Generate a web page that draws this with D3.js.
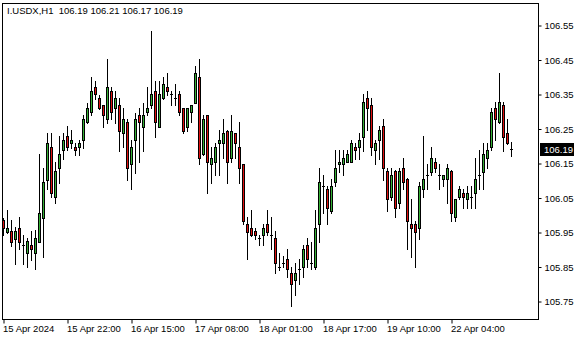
<!DOCTYPE html>
<html>
<head>
<meta charset="utf-8">
<script src="https://cdn.jsdelivr.net/npm/d3@7"></script>
<style>
    html, body { margin: 0; padding: 0; background: #fff; }
    svg { display: block; }
    svg text { font-family: "Liberation Sans", Arial, sans-serif; font-size: 9.5px; fill: #000; }
</style>
</head>
<body>
<div id="chart"></div>
<script>
// I.USDX, H1 candles (15 Apr 2024 -> 22 Apr)
const symbol = 'I.USDX';
const period = 'H1';

const opens = [
    105.985, 105.951, 105.953, 105.931, 105.961, 105.911, 105.890, 105.911, 105.890, 105.922, 105.992, 106.101, 106.195, 106.052, 106.135, 106.187,
    106.227, 106.207, 106.195, 106.195, 106.216, 106.268, 106.297, 106.369, 106.337, 106.317, 106.277, 106.359, 106.308, 106.317, 106.236, 106.268,
    106.146, 106.216, 106.288, 106.255, 106.297, 106.317, 106.359, 106.255, 106.337, 106.369, 106.349, 106.337, 106.349, 106.308, 106.255, 106.297,
    106.325, 106.398, 106.175, 106.288, 106.146, 106.154, 106.207, 106.207, 106.244, 106.164, 106.236, 106.195, 106.146, 105.972, 105.961, 105.953,
    105.932, 105.940, 105.972, 105.940, 105.932, 105.849, 105.859, 105.871, 105.830, 105.810, 105.842, 105.849, 105.911, 105.859, 105.849, 105.972,
    106.083, 106.074, 106.012, 106.094, 106.146, 106.146, 106.154, 106.154, 106.195, 106.195, 106.226, 106.337, 106.317, 106.187, 106.216, 106.257,
    106.127, 106.052, 106.127, 106.033, 106.135, 106.104, 105.972, 105.972, 105.961, 106.074, 106.114, 106.125, 106.154, 106.114, 106.104, 106.104,
    106.127, 105.993, 106.052, 106.064, 106.045, 106.052, 106.064, 106.114, 106.125, 106.164, 106.195, 106.308, 106.268, 106.317, 106.236, 106.19
];
const highs = [
    105.992, 106.014, 105.985, 105.965, 105.993, 105.941, 105.932, 105.953, 105.956, 106.175, 106.135, 106.236, 106.236, 106.154, 106.228, 106.236,
    106.257, 106.246, 106.207, 106.216, 106.289, 106.325, 106.400, 106.388, 106.347, 106.319, 106.451, 106.371, 106.359, 106.337, 106.308, 106.277,
    106.216, 106.296, 106.308, 106.323, 106.369, 106.533, 106.388, 106.388, 106.400, 106.410, 106.359, 106.379, 106.359, 106.310, 106.310, 106.319,
    106.431, 106.451, 106.288, 106.290, 106.195, 106.207, 106.246, 106.277, 106.246, 106.288, 106.238, 106.268, 106.148, 105.993, 106.014, 105.961,
    105.940, 105.972, 106.014, 105.993, 105.953, 105.890, 105.880, 105.902, 105.849, 105.859, 105.871, 105.911, 105.932, 105.922, 106.014, 106.135,
    106.114, 106.083, 106.104, 106.187, 106.187, 106.187, 106.187, 106.216, 106.207, 106.236, 106.350, 106.359, 106.337, 106.216, 106.257, 106.277,
    106.135, 106.135, 106.129, 106.135, 106.164, 106.106, 106.045, 105.983, 106.094, 106.228, 106.146, 106.195, 106.164, 106.146, 106.116, 106.146,
    106.129, 106.047, 106.083, 106.074, 106.083, 106.083, 106.164, 106.187, 106.207, 106.207, 106.308, 106.327, 106.410, 106.327, 106.277, 106.21
];
const lows = [
    105.941, 105.946, 105.909, 105.857, 105.902, 105.857, 105.849, 105.869, 105.842, 105.920, 105.878, 106.074, 106.052, 106.033, 106.093, 106.163,
    106.187, 106.194, 106.174, 106.174, 106.194, 106.266, 106.289, 106.335, 106.306, 106.255, 106.267, 106.277, 106.267, 106.186, 106.195, 106.101,
    106.074, 106.122, 106.154, 106.186, 106.289, 106.308, 106.226, 106.253, 106.335, 106.347, 106.317, 106.317, 106.288, 106.236, 106.244, 106.268,
    106.323, 106.146, 106.173, 106.064, 106.093, 106.114, 106.114, 106.164, 106.093, 106.154, 106.164, 106.093, 105.972, 105.871, 105.938, 105.931,
    105.911, 105.911, 105.940, 105.902, 105.830, 105.840, 105.849, 105.819, 105.736, 105.767, 105.798, 105.819, 105.849, 105.842, 105.842, 105.922,
    106.004, 105.972, 106.004, 106.083, 106.125, 106.114, 106.152, 106.152, 106.163, 106.163, 106.186, 106.246, 106.174, 106.146, 106.163, 106.101,
    106.012, 106.043, 105.993, 106.021, 106.074, 105.902, 105.878, 105.849, 105.931, 106.052, 106.074, 106.114, 106.125, 106.074, 106.083, 106.033,
    105.983, 105.983, 106.045, 106.021, 106.021, 106.021, 106.021, 106.074, 106.074, 106.135, 106.187, 106.216, 106.266, 106.186, 106.205, 106.17
];
const closes = [
    105.961, 105.961, 105.922, 105.953, 105.922, 105.911, 105.924, 105.902, 105.932, 106.004, 106.094, 106.207, 106.064, 106.127, 106.175, 106.216,
    106.195, 106.216, 106.187, 106.207, 106.277, 106.308, 106.359, 106.349, 106.308, 106.288, 106.369, 106.297, 106.337, 106.244, 106.277, 106.135,
    106.195, 106.277, 106.268, 106.288, 106.308, 106.349, 106.268, 106.349, 106.379, 106.359, 106.349, 106.337, 106.297, 106.244, 106.308, 106.317,
    106.410, 106.164, 106.277, 106.154, 106.164, 106.195, 106.216, 106.236, 106.154, 106.244, 106.207, 106.135, 105.983, 105.951, 105.940, 105.940,
    105.932, 105.961, 105.951, 105.940, 105.859, 105.849, 105.859, 105.842, 105.798, 105.830, 105.842, 105.902, 105.871, 105.859, 105.961, 106.094,
    106.083, 106.021, 106.083, 106.135, 106.154, 106.164, 106.175, 106.207, 106.187, 106.216, 106.327, 106.308, 106.195, 106.207, 106.246, 106.135,
    106.045, 106.114, 106.021, 106.127, 106.094, 105.983, 105.961, 105.951, 106.083, 106.104, 106.114, 106.164, 106.135, 106.114, 106.114, 106.135,
    106.004, 106.045, 106.074, 106.052, 106.064, 106.052, 106.104, 106.114, 106.175, 106.187, 106.297, 106.277, 106.327, 106.226, 106.207, 106.19
];

// one time label every 16 bars
const timeLabels = ['15 Apr 2024', '15 Apr 22:00', '16 Apr 15:00', '17 Apr 08:00', '18 Apr 01:00', '18 Apr 17:00', '19 Apr 10:00', '22 Apr 04:00'];
const labelStep = 16;
const priceTicks = [105.75, 105.85, 105.95, 106.05, 106.15, 106.25, 106.35, 106.45, 106.55];

const width = 580, height = 340;
const frame = { left: 2, top: 3, right: 538, bottom: 319 };
const bullColor = '#35b035';
const bearColor = '#e01010';

const bars = opens.map((o, i) => ({ i: i, o: o, h: highs[i], l: lows[i], c: closes[i] }));

const x = d3.scaleLinear()
    .domain([0, bars.length - 1])
    .range([3.5, 3.5 + 4 * (bars.length - 1)]);
const y = d3.scaleLinear()
    .domain([105.75, 106.55])
    .range([301, 25]);
const py = v => Math.round(y(v));

const svg = d3.select('#chart')
    .append('svg')
    .attr('width', width)
    .attr('height', height);

svg.append('rect')
    .attr('x', frame.left + 0.5)
    .attr('y', frame.top + 0.5)
    .attr('width', frame.right - frame.left)
    .attr('height', frame.bottom - frame.top)
    .attr('fill', 'none')
    .attr('stroke', '#000');

// header line with last bar OHLC
const last = bars[bars.length - 1];
svg.append('text')
    .attr('x', 7)
    .attr('y', 14)
    .attr('xml:space', 'preserve')
    .text(`${symbol},${period}  ${[last.o, last.h, last.l, last.c].map(v => v.toFixed(2)).join(' ')}`);

// candles
const candle = svg.append('g')
    .selectAll('g')
    .data(bars)
    .join('g');

candle.append('line')
    .attr('x1', d => x(d.i))
    .attr('x2', d => x(d.i))
    .attr('y1', d => py(d.h))
    .attr('y2', d => py(d.l) + 1)
    .attr('stroke', '#000');

candle.filter(d => py(d.o) !== py(d.c))
    .append('rect')
    .attr('x', d => x(d.i) - 1)
    .attr('width', 2)
    .attr('y', d => Math.min(py(d.o), py(d.c)) + 0.5)
    .attr('height', d => Math.abs(py(d.o) - py(d.c)))
    .attr('fill', d => d.c > d.o ? bullColor : bearColor)
    .attr('stroke', '#000');

candle.filter(d => py(d.o) === py(d.c))
    .append('line')
    .attr('x1', d => x(d.i) - 1.5)
    .attr('x2', d => x(d.i) + 1.5)
    .attr('y1', d => py(d.c) + 0.5)
    .attr('y2', d => py(d.c) + 0.5)
    .attr('stroke', '#000');

// price scale
const yAxis = svg.append('g')
    .attr('transform', `translate(${frame.right + 0.5},0.5)`)
    .call(d3.axisRight(y).tickValues(priceTicks).tickFormat(d3.format('.2f')).tickSize(3).tickPadding(3));
yAxis.select('.domain').remove();
yAxis.selectAll('line').attr('stroke', '#000');
yAxis.selectAll('text').attr('font-family', null).attr('font-size', null);

// time scale
const xAxis = svg.append('g')
    .attr('transform', `translate(0,${frame.bottom + 0.5})`)
    .call(d3.axisBottom(x)
        .tickValues(timeLabels.map((t, k) => k * labelStep))
        .tickFormat((d, k) => timeLabels[k])
        .tickSize(4));
xAxis.select('.domain').remove();
xAxis.selectAll('line').attr('stroke', '#000');
xAxis.selectAll('text')
    .attr('font-family', null)
    .attr('font-size', null)
    .attr('text-anchor', 'start')
    .attr('x', -1)
    .attr('y', 12)
    .attr('dy', null);

// current price tag
const tagY = py(last.c);
svg.append('rect')
    .attr('x', 540)
    .attr('y', tagY - 6)
    .attr('width', 34)
    .attr('height', 13)
    .attr('fill', '#000');
svg.append('text')
    .attr('x', 544)
    .attr('y', tagY + 0.5)
    .attr('dy', '0.32em')
    .style('fill', '#fff')
    .text(last.c.toFixed(2));
</script>
</body>
</html>
